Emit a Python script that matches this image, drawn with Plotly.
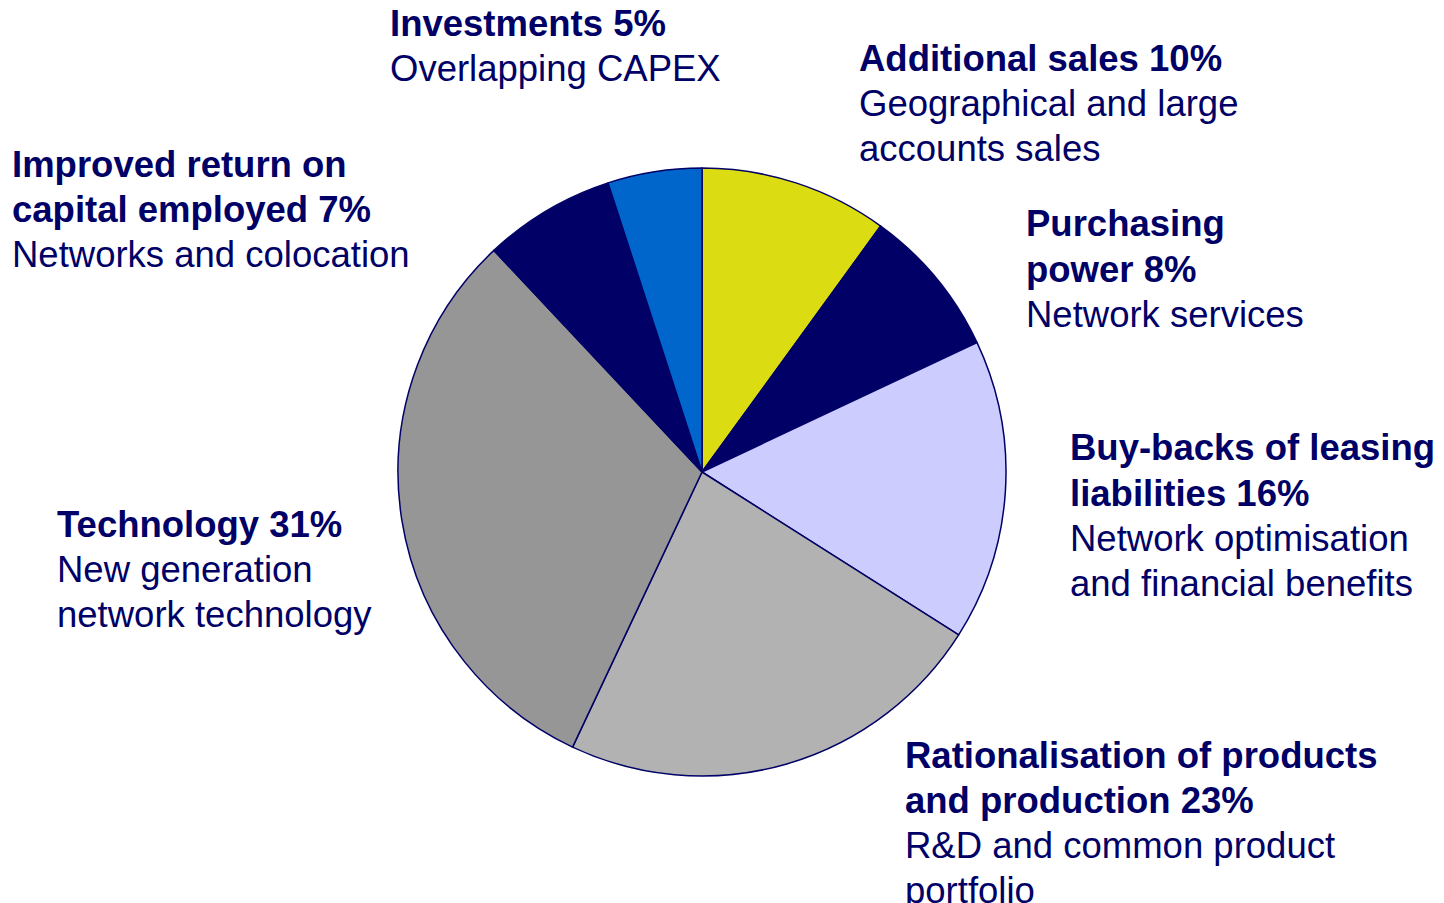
import plotly.graph_objects as go

# ---- data ----
categories = ["Additional sales", "Purchasing power", "Buy-backs of leasing liabilities",
              "Rationalisation of products and production", "Technology",
              "Improved return on capital employed", "Investments"]
values = [10, 8, 16, 23, 31, 7, 5]
title_lines = [
    ["Additional sales 10%"],
    ["Purchasing", "power 8%"],
    ["Buy-backs of leasing", "liabilities 16%"],
    ["Rationalisation of products", "and production 23%"],
    ["Technology 31%"],
    ["Improved return on", "capital employed 7%"],
    ["Investments 5%"],
]
desc_lines = [
    ["Geographical and large", "accounts sales"],
    ["Network services"],
    ["Network optimisation", "and financial benefits"],
    ["R&D and common product", "portfolio"],
    ["New generation", "network technology"],
    ["Networks and colocation"],
    ["Overlapping CAPEX"],
]
colors = ["#DCDC12", "#000066", "#CCCCFF", "#B2B2B2", "#969696", "#000066", "#0066CC"]

# ---- layout (pixels, page coordinates) ----
OFF = 8  # default page body margin
W, H = 1444 - OFF, 903 - OFF
cx, cy, r = 702 - OFF, 472 - OFF, 304
label_pos = [(858, 58), (1025, 224), (1069, 448), (904, 755), (56, 524), (11, 164), (389, 24)]
line_gap = 45
font_size = 36.5
text_color = "#000066"

fig = go.Figure()
fig.add_trace(go.Pie(
    labels=categories, values=values, sort=False, direction="clockwise", rotation=0,
    marker=dict(colors=colors, line=dict(color="#000066", width=1.5)),
    textinfo="none", hoverinfo="label+percent", showlegend=False,
    domain=dict(x=[(cx - r) / W, (cx + r) / W], y=[(H - cy - r) / H, (H - cy + r) / H]),
))

annotations = []
for (lx, ly), tl, dl in zip(label_pos, title_lines, desc_lines):
    lines = [("<b>%s</b>" % t) for t in tl] + list(dl)
    for i, line in enumerate(lines):
        annotations.append(dict(
            x=(lx - OFF) / W, y=1 - (ly - OFF + i * line_gap) / H, xref="paper", yref="paper",
            text=line, showarrow=False, xanchor="left", yanchor="middle",
            font=dict(family="Liberation Sans, Arial, sans-serif", size=font_size, color=text_color),
            borderpad=0,
        ))

fig.update_layout(
    width=W, height=H, margin=dict(l=0, r=0, t=0, b=0),
    paper_bgcolor="white", plot_bgcolor="white",
    annotations=annotations,
)
fig.write_html("out.html")
